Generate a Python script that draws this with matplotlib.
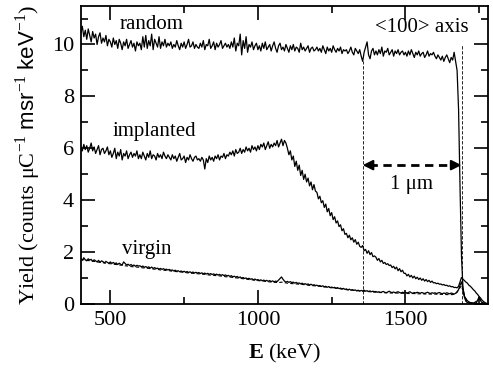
import numpy as np
import matplotlib
matplotlib.use("Agg")
import matplotlib.pyplot as plt
from matplotlib.ticker import MultipleLocator

plt.rcParams['font.family'] = ['Liberation Serif', 'DejaVu Serif']
plt.rcParams['mathtext.fontset'] = 'custom'
plt.rcParams['mathtext.rm'] = 'Liberation Serif'
plt.rcParams['mathtext.sf'] = 'Liberation Sans'
plt.rcParams['mathtext.bf'] = 'Liberation Serif:bold'

# channel energies (keV)
E_start, E_stop, E_step = 400, 1780, 5
E_dash_step = 10

random_counts = [
    10.45, 10.7, 10.3, 10.55, 10.2, 10.6, 10.35, 10.1, 10.5, 10.25, 10.4, 10.0, 10.3, 10.45, 10.05, 10.25, 10.1, 10.35, 9.95, 10.2,
    10.1, 9.9, 10.25, 10.0, 10.15, 9.85, 10.2, 10.05, 9.8, 10.1, 9.95, 10.2, 9.85, 10.0, 10.15, 9.9, 10.05, 9.75, 10.1, 9.95,
    10.05, 9.8, 10.3, 9.9, 10.35, 9.85, 10.15, 9.95, 10.4, 9.8, 10.2, 10.05, 9.9, 10.3, 9.85, 10.1, 9.95, 10.2, 9.9, 10.05,
    9.95, 10.1, 9.85, 10.0, 9.9, 10.15, 9.95, 9.8, 10.05, 9.9, 10.1, 9.85, 10.0, 10.2, 9.9, 9.95, 10.1, 9.85, 10.0, 9.9,
    9.85, 10.05, 9.9, 10.15, 9.8, 10.0, 9.95, 10.2, 9.85, 9.95, 10.1, 9.8, 10.05, 9.9, 10.0, 10.15, 9.85, 9.95, 10.05, 9.9,
    10.0, 9.85, 10.1, 9.9, 10.25, 9.75, 10.05, 9.95, 10.4, 9.6, 10.15, 9.85, 10.3, 9.7, 10.0, 9.9, 10.1, 9.8, 9.95, 10.05,
    9.8, 9.95, 9.75, 10.05, 9.85, 10.1, 9.8, 9.9, 10.0, 9.75, 9.95, 10.1, 9.85, 9.7, 9.95, 10.05, 9.8, 9.9, 9.75, 10.0,
    9.85, 9.7, 9.95, 9.8, 10.0, 9.75, 9.9, 9.85, 9.7, 10.05, 9.8, 9.9, 9.75, 9.85, 9.95, 9.7, 9.85, 9.9, 9.75, 9.8,
    9.9, 9.75, 9.85, 9.7, 9.95, 9.8, 9.65, 9.9, 9.75, 9.85, 9.7, 9.95, 9.8, 9.7, 9.85, 9.75, 9.9, 9.65, 9.8, 9.75,
    9.8, 9.65, 9.75, 9.9, 9.7, 9.6, 9.85, 9.75, 9.65, 9.8, 9.55, 9.35, 9.7, 9.9, 10.1, 9.6, 9.45, 9.75, 9.85, 9.6,
    9.75, 9.6, 9.8, 9.65, 9.9, 9.55, 9.75, 9.7, 9.85, 9.6, 9.7, 9.8, 9.55, 9.75, 9.65, 9.8, 9.6, 9.7, 9.75, 9.6,
    9.7, 9.55, 9.75, 9.6, 9.8, 9.65, 9.5, 9.7, 9.6, 9.75, 9.55, 9.65, 9.7, 9.5, 9.6, 9.75, 9.55, 9.65, 9.6, 9.7,
    9.55, 9.45, 9.6, 9.5, 9.4, 9.55, 9.35, 9.5, 9.6, 9.45, 9.3, 9.5, 9.4, 9.7, 9.35, 9.0, 7.5, 4.5, 1.8, 0.6,
    0.3, 0.2, 0.12, 0.08, 0.05, 0.04, 0.03, 0.02, 0.02, 0.01, 0.01, 0.0, 0.0, 0.0, 0.0, 0.0, 0.0,
]

implanted_counts = [
    6.05, 5.9, 6.15, 5.95, 6.1, 5.85, 6.0, 6.2, 5.9, 6.05, 5.8, 5.95, 6.1, 5.75, 5.95, 6.0, 5.8, 5.9, 6.05, 5.75,
    5.9, 5.65, 5.8, 6.0, 5.6, 5.85, 5.7, 5.95, 5.55, 5.8, 5.7, 5.9, 5.6, 5.75, 5.85, 5.65, 5.8, 5.7, 5.9, 5.6,
    5.75, 5.6, 5.85, 5.7, 5.55, 5.8, 5.65, 5.9, 5.6, 5.75, 5.7, 5.55, 5.8, 5.65, 5.75, 5.6, 5.85, 5.7, 5.6, 5.75,
    5.65, 5.55, 5.75, 5.6, 5.7, 5.5, 5.65, 5.8, 5.55, 5.6, 5.7, 5.45, 5.65, 5.55, 5.75, 5.6, 5.5, 5.65, 5.7, 5.55,
    5.6, 5.5, 5.65, 5.55, 5.2, 5.6, 5.45, 5.7, 5.55, 5.65, 5.5, 5.7, 5.6, 5.75, 5.55, 5.7, 5.65, 5.8, 5.6, 5.75,
    5.7, 5.85, 5.75, 5.9, 5.7, 5.95, 5.8, 5.85, 6.0, 5.8, 5.95, 5.85, 6.05, 5.9, 6.0, 5.85, 6.1, 5.95, 6.05, 5.9,
    6.1, 5.95, 6.15, 6.05, 6.2, 5.95, 6.1, 6.25, 6.0, 6.15, 6.05, 6.2, 6.1, 6.3, 6.05, 6.2, 6.35, 6.1, 6.3, 6.2,
    6.0, 5.75, 5.9, 5.55, 5.7, 5.3, 5.5, 5.15, 5.35, 4.95, 5.15, 4.8, 5.0, 4.7, 4.85, 4.55, 4.7, 4.4, 4.6, 4.35,
    4.3, 4.05, 4.15, 3.9, 3.98, 3.72, 3.85, 3.55, 3.68, 3.4, 3.52, 3.25, 3.36, 3.12, 3.2, 2.98, 3.05, 2.82, 2.9, 2.68,
    2.72, 2.55, 2.65, 2.47, 2.55, 2.38, 2.48, 2.3, 2.38, 2.22, 2.18, 2.25, 2.05, 2.1, 1.95, 2.05, 1.9, 1.98, 1.82, 1.85,
    1.8, 1.68, 1.75, 1.62, 1.68, 1.56, 1.6, 1.52, 1.55, 1.48, 1.5, 1.4, 1.45, 1.35, 1.42, 1.28, 1.36, 1.24, 1.3, 1.18,
    1.18, 1.08, 1.14, 1.04, 1.1, 1.0, 1.07, 0.97, 1.03, 0.94, 1.0, 0.91, 0.97, 0.88, 0.94, 0.86, 0.91, 0.83, 0.88, 0.81,
    0.82, 0.78, 0.8, 0.76, 0.77, 0.73, 0.75, 0.71, 0.72, 0.68, 0.7, 0.66, 0.67, 0.63, 0.64, 0.62, 0.68, 0.85, 1.02, 0.95,
    0.9, 0.84, 0.8, 0.72, 0.68, 0.62, 0.55, 0.5, 0.42, 0.36, 0.28, 0.22, 0.14, 0.09, 0.05, 0.02, 0.0,
]

virgin_counts = [
    1.75, 1.68, 1.78, 1.7, 1.66, 1.74, 1.69, 1.72, 1.64, 1.7, 1.66, 1.62, 1.68, 1.6, 1.66, 1.63, 1.58, 1.64, 1.6, 1.57,
    1.62, 1.56, 1.6, 1.55, 1.58, 1.52, 1.57, 1.53, 1.5, 1.62, 1.56, 1.5, 1.53, 1.48, 1.52, 1.47, 1.5, 1.45, 1.49, 1.46,
    1.47, 1.43, 1.46, 1.41, 1.44, 1.4, 1.43, 1.38, 1.42, 1.37, 1.4, 1.36, 1.38, 1.34, 1.37, 1.33, 1.36, 1.32, 1.34, 1.31,
    1.33, 1.29, 1.31, 1.27, 1.3, 1.26, 1.28, 1.24, 1.27, 1.23, 1.26, 1.22, 1.25, 1.21, 1.24, 1.2, 1.23, 1.19, 1.22, 1.19,
    1.21, 1.17, 1.2, 1.16, 1.19, 1.15, 1.18, 1.14, 1.17, 1.13, 1.16, 1.12, 1.15, 1.11, 1.14, 1.1, 1.13, 1.09, 1.12, 1.08,
    1.1, 1.06, 1.09, 1.04, 1.07, 1.03, 1.06, 1.01, 1.04, 0.99, 1.02, 0.98, 1.0, 0.96, 0.99, 0.95, 0.97, 0.93, 0.96, 0.92,
    0.94, 0.9, 0.93, 0.89, 0.92, 0.88, 0.91, 0.87, 0.9, 0.86, 0.89, 0.85, 0.88, 0.86, 0.92, 0.98, 1.04, 0.95, 0.88, 0.84,
    0.87, 0.83, 0.86, 0.82, 0.84, 0.8, 0.83, 0.79, 0.81, 0.77, 0.8, 0.76, 0.78, 0.75, 0.77, 0.73, 0.76, 0.72, 0.74, 0.71,
    0.72, 0.69, 0.71, 0.67, 0.7, 0.66, 0.68, 0.64, 0.67, 0.63, 0.65, 0.62, 0.64, 0.6, 0.63, 0.59, 0.61, 0.58, 0.6, 0.56,
    0.58, 0.54, 0.57, 0.53, 0.55, 0.52, 0.54, 0.5, 0.53, 0.49, 0.52, 0.5, 0.53, 0.49, 0.51, 0.48, 0.5, 0.47, 0.49, 0.47,
    0.48, 0.45, 0.47, 0.44, 0.46, 0.48, 0.45, 0.43, 0.46, 0.49, 0.45, 0.44, 0.46, 0.43, 0.45, 0.47, 0.44, 0.42, 0.45, 0.43,
    0.45, 0.42, 0.44, 0.47, 0.43, 0.41, 0.44, 0.42, 0.45, 0.43, 0.41, 0.44, 0.42, 0.4, 0.43, 0.45, 0.42, 0.4, 0.43, 0.41,
    0.43, 0.4, 0.42, 0.44, 0.41, 0.39, 0.42, 0.4, 0.43, 0.41, 0.39, 0.42, 0.4, 0.38, 0.41, 0.45, 0.55, 0.72, 0.85, 0.6,
    0.25, 0.1, 0.05, 0.04, 0.03, 0.04, 0.03, 0.04, 0.03, 0.15, 0.28, 0.12, 0.04, 0.02, 0.01, 0.0, 0.0,
]

virgin_dashed_counts = [
    1.72, 1.7, 1.69, 1.66, 1.65, 1.63, 1.61, 1.6, 1.58, 1.56, 1.55, 1.53, 1.52, 1.5, 1.49, 1.47, 1.46, 1.44, 1.43, 1.42,
    1.41, 1.39, 1.38, 1.37, 1.35, 1.34, 1.33, 1.31, 1.3, 1.29, 1.28, 1.26, 1.25, 1.24, 1.23, 1.22, 1.2, 1.19, 1.18, 1.17,
    1.16, 1.15, 1.14, 1.12, 1.11, 1.1, 1.09, 1.08, 1.07, 1.05, 1.04, 1.03, 1.01, 1.0, 0.99, 0.97, 0.96, 0.94, 0.93, 0.91,
    0.9, 0.89, 0.88, 0.86, 0.85, 0.84, 0.83, 0.82, 0.84, 0.82, 0.8, 0.79, 0.78, 0.77, 0.76, 0.75, 0.74, 0.72, 0.71, 0.7,
    0.69, 0.68, 0.66, 0.65, 0.64, 0.62, 0.61, 0.6, 0.58, 0.57, 0.55, 0.54, 0.53, 0.52, 0.51, 0.5, 0.49, 0.48, 0.47, 0.46,
    0.45, 0.44, 0.44, 0.43, 0.43, 0.42, 0.42, 0.42, 0.41, 0.41, 0.41, 0.4, 0.4, 0.4, 0.39, 0.39, 0.39, 0.38, 0.38, 0.38,
    0.38, 0.37, 0.37, 0.37, 0.36, 0.36, 0.36, 0.4, 0.55, 0.7, 0.3, 0.08, 0.04, 0.03, 0.1, 0.2, 0.06, 0.02, 0.0,
]

depth_marks = [1355, 1690]          # keV, dashed vertical guides
depth_tops = [9.35, 10.0]
arrow_y = 5.35

E = np.arange(E_start, E_stop + 1, E_step)
E_dash = np.arange(E_start, E_stop + 1, E_dash_step)

fig = plt.figure(figsize=(4.93, 3.72), dpi=100)
ax = fig.add_axes([0.164, 0.183, 0.826, 0.802])

lw = 0.9
ax.plot(E, random_counts, color='black', lw=lw)
ax.plot(E, implanted_counts, color='black', lw=lw)
ax.plot(E, virgin_counts, color='black', lw=lw)
ax.plot(E_dash, virgin_dashed_counts, color='black', lw=0.8, ls=(0, (3, 2)))

for xm, top in zip(depth_marks, depth_tops):
    ax.plot([xm, xm], [0, top], color='black', lw=0.6, ls=(0, (4, 2)))

# double arrow (dashed shaft, solid heads)
ax.plot([depth_marks[0] + 20, depth_marks[1] - 20], [arrow_y, arrow_y], color='black', lw=2.0, ls=(0, (3, 2)))
for tip, tail in [(depth_marks[0], depth_marks[0] + 30), (depth_marks[1], depth_marks[1] - 30)]:
    ax.annotate('', xy=(tip, arrow_y), xytext=(tail, arrow_y),
                arrowprops=dict(arrowstyle='-|>,head_length=0.6,head_width=0.3', color='black', lw=1.5,
                                shrinkA=0, shrinkB=0))

fs_lab = 15
ax.text(640, 10.77, 'random', fontsize=fs_lab, ha='center', va='center')
ax.text(650, 6.65, 'implanted', fontsize=fs_lab, ha='center', va='center')
ax.text(624, 2.1, 'virgin', fontsize=fs_lab, ha='center', va='center')
ax.text(1556, 10.65, '<100> axis', fontsize=fs_lab, ha='center', va='center')
ax.text(1520, 4.6, '1 μm', fontsize=fs_lab, ha='center', va='center')

ax.set_xlim(400, 1780)
ax.set_ylim(0, 11.5)
ax.xaxis.set_major_locator(MultipleLocator(500))
ax.xaxis.set_minor_locator(MultipleLocator(250))
ax.yaxis.set_major_locator(MultipleLocator(2))
ax.yaxis.set_minor_locator(MultipleLocator(1))
ax.tick_params(which='both', direction='in', top=True, right=True, labelsize=16, width=1.2, pad=5)
ax.tick_params(which='major', length=10)
ax.tick_params(which='minor', length=5)
for s in ax.spines.values():
    s.set_linewidth(1.3)

ax.set_xlabel(r'$\mathbf{E}$ (keV)', fontsize=16, labelpad=9)
ax.set_ylabel(r'Yield (counts μC$^{-1}$ $\mathsf{msr}^{-1}$ $\mathsf{keV}^{-1}$)', fontsize=16, labelpad=6)

fig.savefig('out.png', dpi=100)
